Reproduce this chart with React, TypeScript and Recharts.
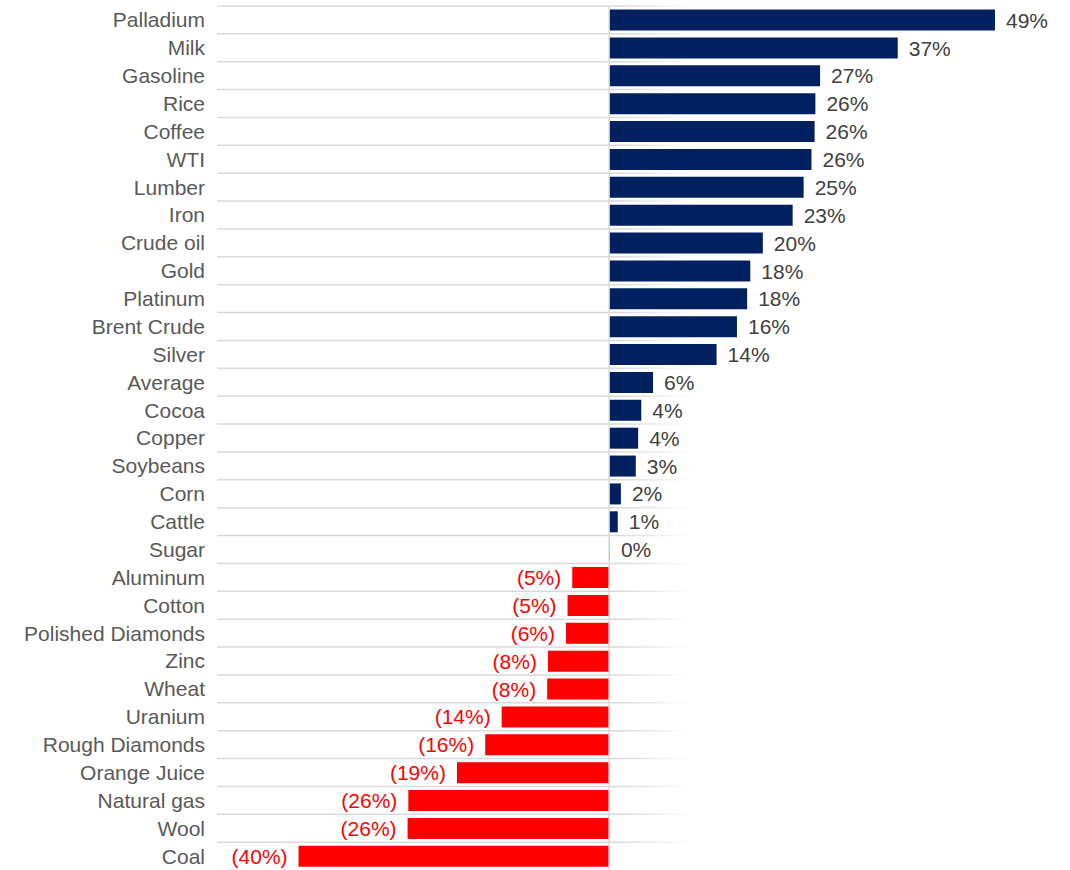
import React from "react";
import { BarChart, Bar, XAxis, YAxis, CartesianGrid, ReferenceLine, LabelList, Cell } from "recharts";

const categories = [
  "Palladium", "Milk", "Gasoline", "Rice", "Coffee", "WTI", "Lumber", "Iron", "Crude oil", "Gold",
  "Platinum", "Brent Crude", "Silver", "Average", "Cocoa", "Copper", "Soybeans", "Corn", "Cattle", "Sugar",
  "Aluminum", "Cotton", "Polished Diamonds", "Zinc", "Wheat", "Uranium", "Rough Diamonds", "Orange Juice",
  "Natural gas", "Wool", "Coal",
];

const changes = [
  49.2, 36.8, 26.9, 26.3, 26.2, 25.8, 24.8, 23.4, 19.6, 18.0,
  17.6, 16.3, 13.7, 5.6, 4.1, 3.7, 3.4, 1.5, 1.1, 0.1,
  -4.7, -5.3, -5.5, -7.8, -7.9, -13.7, -15.8, -19.4,
  -25.6, -25.7, -39.6,
];

const xDomain = [-50, 58];

const POS_COLOR = "#002060";
const NEG_COLOR = "#FF0000";
const FONT = "'Liberation Sans', Arial, sans-serif";

const data = categories.map((name, i) => ({ name, value: changes[i] }));

const fmt = (v: number) => {
  const r = Math.round(Math.abs(v));
  return v < 0 ? `(${r}%)` : `${r}%`;
};

const ValueLabel = (props: any) => {
  const { x, y, width, height, value } = props;
  const left = Math.min(x, x + width);
  const right = Math.max(x, x + width);
  const cy = y + height / 2;
  const neg = value < 0;
  return (
    <text
      x={neg ? left - 11 : right + 11}
      y={cy}
      dy="0.36em"
      textAnchor={neg ? "end" : "start"}
      fill={neg ? NEG_COLOR : "#404040"}
      fontSize={21}
      fontFamily={FONT}
    >
      {fmt(value)}
    </text>
  );
};

export default function App() {
  const n = categories.length;
  return (
    <div style={{ position: "absolute", left: 0, top: 0 }}>
      <BarChart
        width={1070}
        height={870}
        data={data}
        layout="vertical"
        margin={{ top: 6, right: 6, bottom: 0, left: 0 }}
        barCategoryGap="13%"
      >
        <defs>
          <linearGradient id="gridFade" gradientUnits="userSpaceOnUse" x1={217} y1={0} x2={692} y2={0}>
            <stop offset="0" stopColor="#d9d9d9" stopOpacity={1} />
            <stop offset="0.85" stopColor="#d9d9d9" stopOpacity={1} />
            <stop offset="1" stopColor="#d9d9d9" stopOpacity={0} />
          </linearGradient>
        </defs>
        <CartesianGrid
          vertical={false}
          stroke="url(#gridFade)"
          strokeWidth={1.5}
          horizontalCoordinatesGenerator={({ offset }: any) => {
            const arr: number[] = [];
            for (let i = 0; i < n; i++) arr.push(offset.top + (i * offset.height) / n);
            return arr;
          }}
        />
        <XAxis type="number" domain={xDomain} hide allowDataOverflow />
        <YAxis
          type="category"
          dataKey="name"
          width={217}
          axisLine={false}
          tickLine={false}
          tickMargin={6}
          interval={0}
          tick={{ fill: "#595959", fontSize: 21, fontFamily: FONT }}
        />
        <ReferenceLine x={0} stroke="#d9d9d9" strokeWidth={1.5} />
        <Bar dataKey="value" isAnimationActive={false}>
          {data.map((d, i) => (
            <Cell key={i} fill={d.value < 0 ? NEG_COLOR : POS_COLOR} />
          ))}
          <LabelList dataKey="value" content={<ValueLabel />} />
        </Bar>
      </BarChart>
    </div>
  );
}
